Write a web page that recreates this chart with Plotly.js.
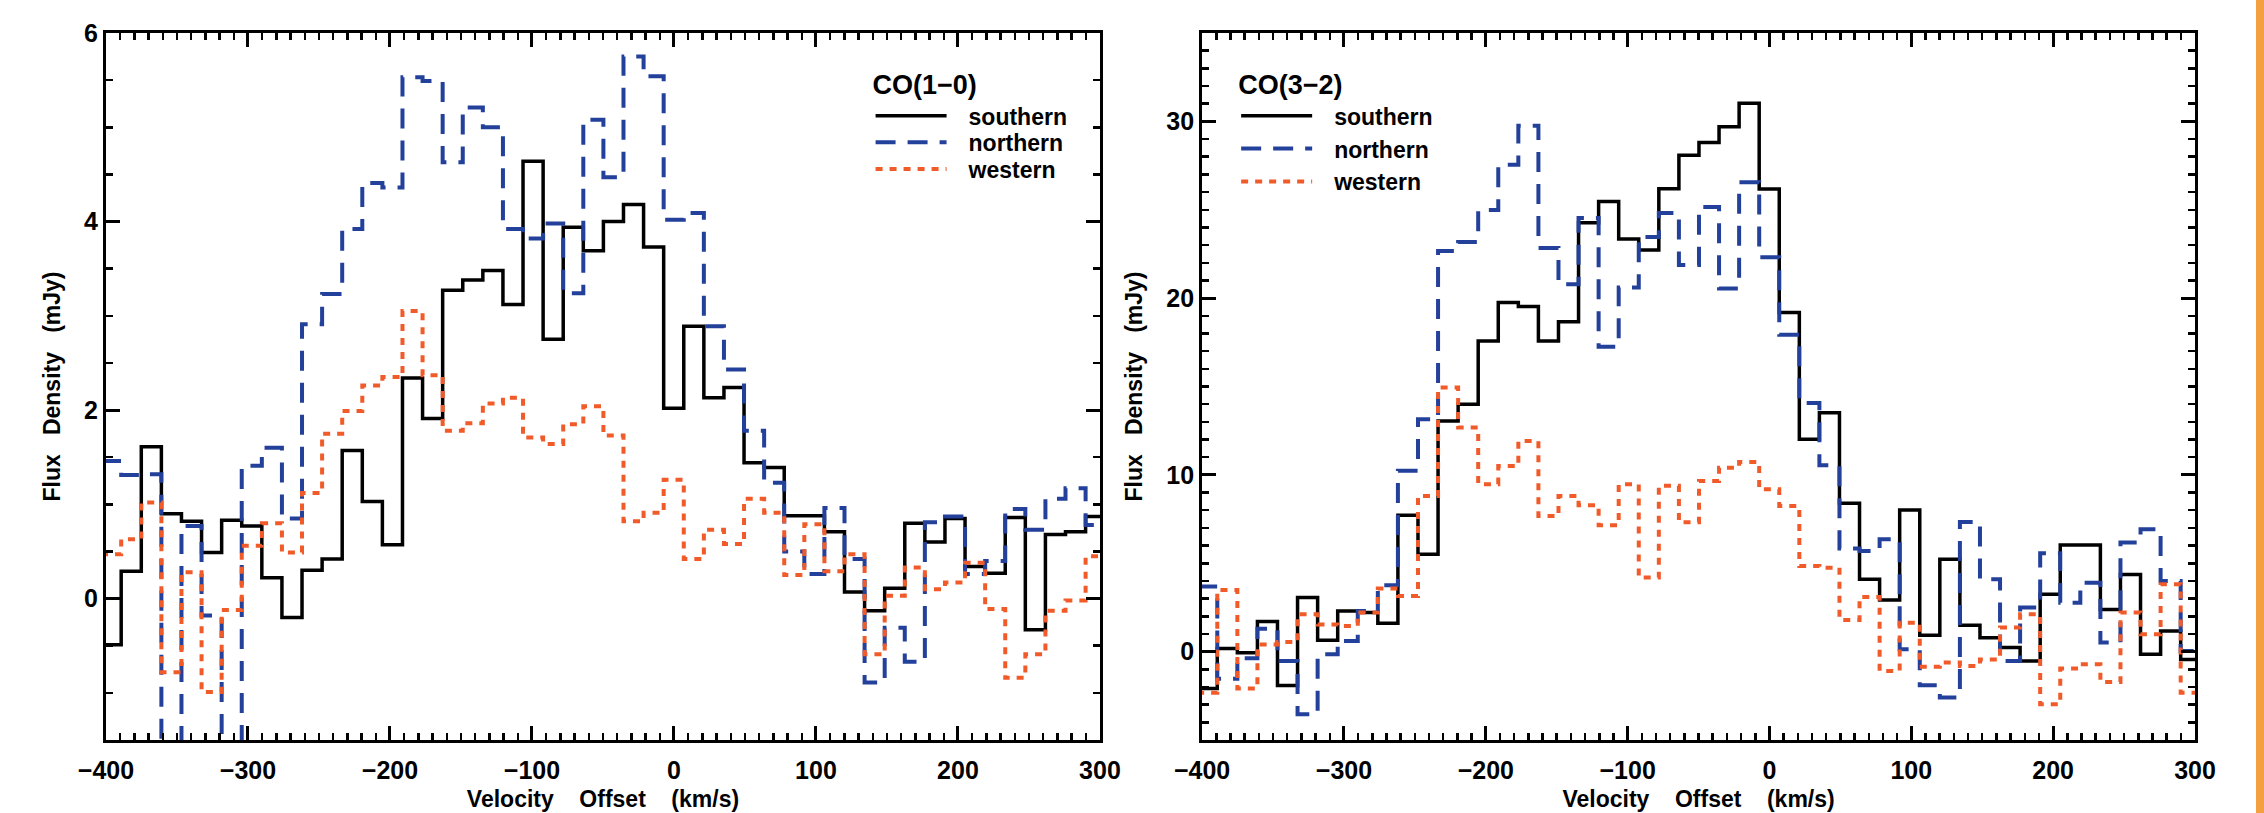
<!DOCTYPE html>
<html>
<head>
<meta charset="utf-8">
<script src="https://cdn.plot.ly/plotly-3.0.1.min.js"></script>
<style>
html,body{margin:0;padding:0;background:#fff;overflow:hidden;}
#chart{width:2264px;height:813px;position:absolute;left:0;top:0;}
#strip{position:absolute;left:2256px;top:0;width:8px;height:813px;background:#f4a041;}
</style>
</head>
<body>
<div id="chart"></div>
<div id="strip"></div>
<script>
// Channel centre velocities (km/s), shared by both spectra
const velocity_kms = [-396.4, -382.2, -368.1, -353.9, -339.8, -325.6, -311.5, -297.3, -283.2, -269.0,
  -254.9, -240.7, -226.6, -212.4, -198.3, -184.1, -170.0, -155.8, -141.7, -127.5,
  -113.4, -99.2, -85.1, -70.9, -56.8, -42.6, -28.5, -14.3, -0.2, 14.0,
  28.1, 42.3, 56.4, 70.6, 84.7, 98.9, 113.0, 127.2, 141.3, 155.5,
  169.6, 183.8, 197.9, 212.1, 226.2, 240.4, 254.5, 268.7, 282.8, 297.0];

// CO(1-0) flux density (mJy)
const co10_southern = [-0.49, 0.29, 1.61, 0.90, 0.82, 0.49, 0.83, 0.77, 0.22, -0.20,
  0.30, 0.42, 1.57, 1.03, 0.57, 2.34, 1.91, 3.27, 3.38, 3.48,
  3.12, 4.64, 2.75, 3.94, 3.69, 4.00, 4.18, 3.73, 2.02, 2.89,
  2.13, 2.24, 1.44, 1.39, 0.88, 0.88, 0.71, 0.07, -0.13, 0.11,
  0.80, 0.60, 0.85, 0.34, 0.27, 0.86, -0.33, 0.68, 0.71, 0.87];
const co10_northern = [1.46, 1.31, 1.32, -2.5, 0.77, -0.18, -2.3, 1.41, 1.60, 0.85,
  2.91, 3.23, 3.92, 4.41, 4.36, 5.53, 5.49, 4.63, 5.21, 5.00,
  3.92, 3.82, 3.98, 3.24, 5.08, 4.47, 5.75, 5.54, 4.02, 4.09,
  2.89, 2.43, 1.78, 1.23, 0.50, 0.26, 0.96, 0.42, -0.89, -0.31,
  -0.67, 0.81, 0.87, 0.26, 0.40, 0.95, 0.73, 1.06, 1.17, 0.78];
const co10_western = [0.47, 0.63, 1.02, -0.78, 0.28, -0.99, -0.12, 0.56, 0.80, 0.49,
  1.12, 1.75, 1.99, 2.26, 2.35, 3.05, 2.37, 1.78, 1.86, 2.07,
  2.13, 1.71, 1.64, 1.85, 2.04, 1.73, 0.82, 0.91, 1.26, 0.42,
  0.73, 0.58, 1.06, 0.91, 0.25, 0.79, 0.29, 0.47, -0.59, 0.03,
  0.33, 0.10, 0.17, 0.38, -0.11, -0.84, -0.59, -0.13, -0.02, 0.45];

// CO(3-2) flux density (mJy)
const co32_southern = [-2.09, 0.17, -0.06, 1.70, -1.91, 3.06, 0.64, 2.30, 2.21, 1.60,
  7.71, 5.51, 13.05, 14.0, 17.58, 19.75, 19.52, 17.58, 18.66, 24.26,
  25.46, 23.35, 22.72, 26.19, 28.09, 28.8, 29.7, 31.03, 26.17, 19.19,
  12.01, 13.51, 8.39, 4.09, 2.92, 8.01, 0.92, 5.22, 1.49, 0.79,
  0.23, -0.53, 3.24, 6.03, 6.03, 2.39, 4.37, -0.15, 1.17, -0.44];
const co32_northern = [3.68, -1.53, -0.38, 1.30, -0.53, -3.55, -0.15, 0.60, 2.30, 3.75,
  10.24, 13.15, 22.67, 23.18, 24.99, 27.54, 29.75, 22.84, 20.78, 24.53,
  17.25, 20.60, 23.46, 24.82, 21.87, 25.15, 20.54, 26.56, 22.31, 17.93,
  14.07, 10.54, 5.83, 5.69, 6.36, 0.13, -1.90, -2.60, 7.34, 4.09,
  -0.53, 2.49, 5.56, 2.77, 3.90, 0.51, 6.17, 6.92, 4.00, 0.03];
const co32_western = [-2.32, 3.49, -2.09, 0.41, 0.54, 2.11, 1.54, 1.45, 2.21, 3.57,
  3.15, 8.81, 14.94, 12.68, 9.47, 10.50, 11.92, 7.67, 8.81, 8.28,
  7.15, 9.47, 4.19, 9.38, 7.32, 9.66, 10.41, 10.73, 9.18, 8.24,
  4.84, 4.75, 1.79, 3.09, -1.10, 1.64, -0.85, -0.62, -0.81, -0.44,
  1.36, 2.11, -2.98, -0.96, -0.72, -1.72, 2.21, 0.98, 3.81, -2.32];

const panelTitles = ['CO(1\u22120)', 'CO(3\u22122)'];

const styles = {
  southern: {color: '#000000', width: 3.5, dash: 'solid'},
  northern: {color: '#23409a', width: 4, dash: '20px,12px'},
  western:  {color: '#f15a29', width: 4, dash: '7px,7px'}
};

// Convert channel centres to histogram bin edges (step plot like IDL psym=10)
function binEdges(c) {
  const e = [c[0] - (c[1] - c[0]) / 2];
  for (let i = 1; i < c.length; i++) e.push((c[i - 1] + c[i]) / 2);
  e.push(c[c.length - 1] + (c[c.length - 1] - c[c.length - 2]) / 2);
  return e;
}
const edges = binEdges(velocity_kms);

function stepTrace(vals, name, xa, ya, legend) {
  return {
    type: 'scatter', mode: 'lines', name: name,
    x: edges, y: vals.concat([vals[vals.length - 1]]),
    line: Object.assign({shape: 'hv'}, styles[name]),
    xaxis: xa, yaxis: ya, legend: legend,
    hoverinfo: 'skip'
  };
}

const traces = [
  stepTrace(co10_southern, 'southern', 'x', 'y', 'legend'),
  stepTrace(co10_northern, 'northern', 'x', 'y', 'legend'),
  stepTrace(co10_western, 'western', 'x', 'y', 'legend'),
  stepTrace(co32_southern, 'southern', 'x2', 'y2', 'legend2'),
  stepTrace(co32_northern, 'northern', 'x2', 'y2', 'legend2'),
  stepTrace(co32_western, 'western', 'x2', 'y2', 'legend2')
];

const FONT = 'Liberation Sans, Arial, sans-serif';
const sp = '\u00a0\u00a0\u00a0\u00a0';
const xTitle = 'Velocity' + sp + 'Offset' + sp + '(km/s)';
const yTitle = 'Flux' + '\u00a0\u00a0\u00a0' + 'Density' + '\u00a0\u00a0\u00a0' + '(mJy)';
function f(size) { return {family: FONT, size: size, color: '#000', weight: 'bold'}; }

function axisBase() {
  return {
    showline: true, linecolor: '#000', linewidth: 3, mirror: 'ticks',
    ticks: 'inside', ticklen: 14, tickwidth: 3, tickcolor: '#000',
    showgrid: false, zeroline: false, fixedrange: true,
    tickfont: f(25)
  };
}
function minor(d) {
  return {dtick: d, ticks: 'inside', ticklen: 7, tickwidth: 2.5, tickcolor: '#000', showgrid: false};
}

const legendBase = {
  xanchor: 'left', yanchor: 'top',
  bgcolor: 'rgba(0,0,0,0)', borderwidth: 0, itemwidth: 88,
  font: f(23), itemclick: false, itemdoubleclick: false, tracegroupgap: 0
};

const layout = {
  width: 2264, height: 813,
  margin: {l: 106, r: 69, t: 33, b: 73},
  paper_bgcolor: '#fff', plot_bgcolor: '#fff',
  font: f(23),
  xaxis: Object.assign(axisBase(), {
    domain: [0, 0.4758], range: [-400, 300], tick0: 0, dtick: 100, minor: minor(10), anchor: 'y',
    ticklabelstandoff: 6,
    title: {text: xTitle, font: f(23), standoff: 8}
  }),
  yaxis: Object.assign(axisBase(), {
    domain: [0, 1], range: [-1.5, 6], tick0: 0, dtick: 2, minor: minor(0.5), anchor: 'x',
    title: {text: yTitle, font: f(23), standoff: 18}
  }),
  xaxis2: Object.assign(axisBase(), {
    domain: [0.5247, 1], range: [-400, 300], tick0: 0, dtick: 100, minor: minor(10), anchor: 'y2',
    ticklabelstandoff: 6,
    title: {text: xTitle, font: f(23), standoff: 8}
  }),
  yaxis2: Object.assign(axisBase(), {
    domain: [0, 1], range: [-5, 35], tick0: 0, dtick: 10, minor: minor(1), anchor: 'x2',
    title: {text: yTitle, font: f(23), standoff: 18}
  }),
  legend: Object.assign({}, legendBase, {
    x: 0.366, y: 0.963, title: {text: panelTitles[0], font: f(27)}
  }),
  legend2: Object.assign({}, legendBase, {
    x: 0.541, y: 0.963, title: {text: panelTitles[1], font: f(27)}
  }),
  showlegend: true
};

Plotly.newPlot('chart', traces, layout, {displayModeBar: false, staticPlot: true}).then(function (gd) {
  // lengthen legend line samples to match the reference key
  gd.querySelectorAll('.legendlines path').forEach(function (p) {
    p.setAttribute('d', 'M5,0h71');
  });
  // tighten vertical spacing of legend entries
  gd.querySelectorAll('g.legend').forEach(function (lg) {
    const items = Array.from(lg.querySelectorAll('g.traces'));
    if (!items.length) return;
    const parse = function (el) {
      const m = /translate\(\s*([-\d.eE]+)[ ,]+([-\d.eE]+)\s*\)/.exec(el.getAttribute('transform') || '');
      return m ? [parseFloat(m[1]), parseFloat(m[2])] : null;
    };
    const first = parse(items[0]);
    if (!first) return;
    items.forEach(function (it) {
      const t = parse(it);
      if (!t) return;
      it.setAttribute('transform', 'translate(' + t[0] + ',' + (first[1] + (t[1] - first[1]) * 0.81) + ')');
    });
  });
});
</script>
</body>
</html>
